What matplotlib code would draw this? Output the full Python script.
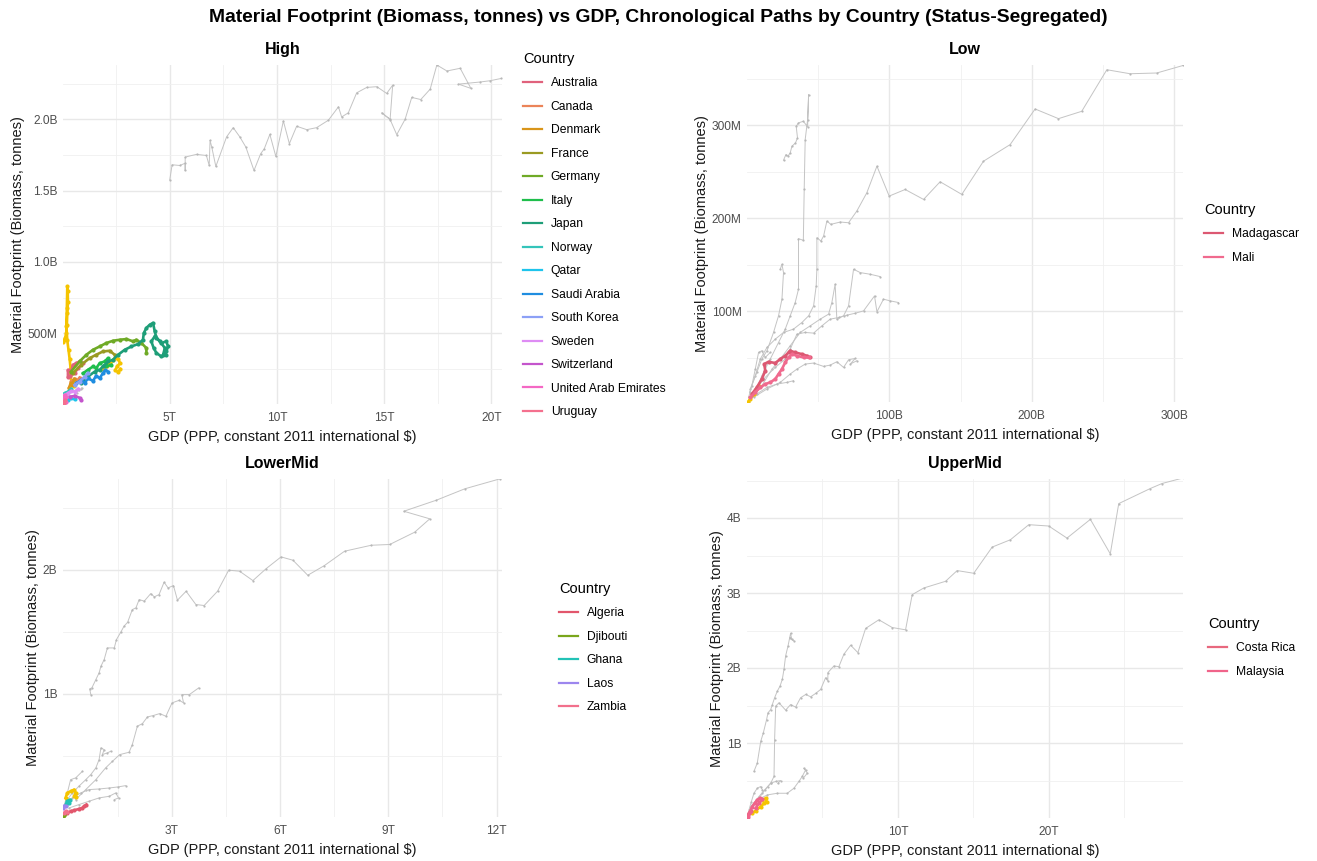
import matplotlib
matplotlib.use("Agg")
import matplotlib.pyplot as plt
from matplotlib.lines import Line2D
import numpy as np

plt.rcParams['font.family'] = ['Liberation Sans', 'DejaVu Sans']

T, B, M = 1e12, 1e9, 1e6
W, H = 1317, 861

# ======================= DATA =======================
# ---------- High (GDP in T, MF in B) ----------
high_gray1_gdp = [5.00, 5.11, 5.47, 5.72, 5.72, 5.72, 6.25, 6.71, 6.84, 6.88, 6.96, 7.15, 7.65, 7.96, 8.27, 8.55,
                  8.93, 9.24, 9.41, 9.67, 9.95, 10.30, 10.58, 10.92, 11.39, 11.85, 12.40, 12.87, 13.02, 13.33,
                  13.72, 14.19, 14.66, 15.12, 15.40, 15.28, 14.89, 15.28, 15.59, 15.98, 16.29, 16.71, 17.15,
                  17.46, 17.93, 18.55, 19.05, 18.47, 19.49, 19.95, 20.47]
high_gray1_mf = [1.575, 1.681, 1.676, 1.692, 1.641, 1.735, 1.754, 1.746, 1.676, 1.852, 1.805, 1.669, 1.876, 1.941,
                 1.876, 1.805, 1.641, 1.758, 1.793, 1.894, 1.739, 1.988, 1.829, 1.951, 1.927, 1.941, 1.993, 2.087,
                 2.016, 2.045, 2.185, 2.223, 2.228, 2.181, 2.239, 2.000, 2.045, 1.998, 1.892, 2.000, 2.153, 2.138,
                 2.211, 2.380, 2.338, 2.357, 2.216, 2.246, 2.261, 2.270, 2.286]
high_gray2_gdp = [0.55, 0.65, 0.75, 0.85, 0.90]
high_gray2_mf = [0.07, 0.085, 0.10, 0.11, 0.12]
high_yellow1_gdp = [0.02, 0.08, 0.12, 0.17, 0.20, 0.22, 0.25, 0.24, 0.22, 0.20, 0.18, 0.22, 0.28, 0.33, 0.37, 0.35, 0.42, 0.52]
high_yellow1_mf = [0.44, 0.45, 0.47, 0.50, 0.56, 0.64, 0.72, 0.80, 0.83, 0.68, 0.55, 0.45, 0.38, 0.32, 0.26, 0.20, 0.16, 0.13]
high_yellow2_gdp = [1.90, 2.05, 2.20, 2.35, 2.45, 2.60, 2.68, 2.55, 2.45, 2.60, 2.70]
high_yellow2_mf = [0.25, 0.27, 0.29, 0.31, 0.33, 0.32, 0.29, 0.27, 0.24, 0.23, 0.25]

high_japan_gdp = [0.87, 1.18, 1.50, 1.73, 1.88, 2.12, 2.35, 2.59, 2.90, 3.21, 3.52, 3.75, 3.79, 3.91, 4.07, 4.22,
                  4.30, 4.38, 4.61, 4.84, 4.92, 4.84, 4.69, 4.77, 4.53, 4.30, 4.14, 4.25, 4.38, 4.61, 4.84]
high_japan_mf = [0.150, 0.197, 0.232, 0.244, 0.268, 0.303, 0.315, 0.350, 0.385, 0.408, 0.425, 0.455, 0.502, 0.538,
                 0.561, 0.573, 0.514, 0.467, 0.432, 0.444, 0.408, 0.373, 0.350, 0.397, 0.448, 0.479, 0.444, 0.397,
                 0.362, 0.338, 0.350]
high_germany_gdp = [0.40, 0.79, 1.11, 1.42, 1.73, 2.04, 2.35, 2.66, 2.98, 3.29, 3.44, 3.68, 3.91, 3.91]
high_germany_mf = [0.232, 0.303, 0.350, 0.385, 0.408, 0.432, 0.448, 0.455, 0.460, 0.444, 0.455, 0.432, 0.397, 0.362]
high_france_gdp = [0.48, 0.87, 1.26, 1.57, 1.88, 2.20, 2.43]
high_france_mf = [0.220, 0.280, 0.326, 0.350, 0.373, 0.378, 0.350]
high_italy_gdp = [0.95, 1.18, 1.42, 1.57, 1.73, 1.96, 2.12, 2.04, 2.27]
high_italy_mf = [0.220, 0.244, 0.268, 0.256, 0.291, 0.303, 0.326, 0.268, 0.279]
high_australia_gdp = [0.25, 0.25, 0.40, 0.48, 0.64, 0.79, 0.95, 0.72, 0.56, 0.36]
high_australia_mf = [0.197, 0.244, 0.232, 0.279, 0.291, 0.303, 0.291, 0.256, 0.221, 0.204]
high_canada_gdp = [0.40, 0.56, 0.67, 0.79]
high_canada_mf = [0.162, 0.181, 0.167, 0.190]
high_denmark_gdp = [0.30, 0.38, 0.46, 0.55]
high_denmark_mf = [0.120, 0.150, 0.140, 0.180]
high_saudi_gdp = [0.64, 0.87, 1.03, 1.18, 1.42, 1.57, 1.73, 1.88, 2.00, 2.12]
high_saudi_mf = [0.150, 0.174, 0.150, 0.185, 0.167, 0.204, 0.185, 0.221, 0.244, 0.232]
high_korea_gdp = [0.56, 0.79, 1.03, 1.18]
high_korea_mf = [0.139, 0.162, 0.197, 0.221]
high_qatar_gdp = [0.09, 0.25, 0.40, 0.56]
high_qatar_mf = [0.021, 0.033, 0.045, 0.038]
high_norway_gdp = [0.09, 0.25, 0.40]
high_norway_mf = [0.080, 0.092, 0.110]
high_sweden_gdp = [0.09, 0.25, 0.40, 0.56, 0.72]
high_sweden_mf = [0.068, 0.080, 0.096, 0.092, 0.110]
high_swiss_gdp = [0.33, 0.56, 0.79, 0.87]
high_swiss_mf = [0.056, 0.061, 0.049, 0.033]
high_uae_gdp = [0.02, 0.09, 0.17, 0.14]
high_uae_mf = [0.045, 0.068, 0.056, 0.021]
high_uruguay_gdp = [0.02, 0.06, 0.12]
high_uruguay_mf = [0.020, 0.010, 0.030]

high_countries = ["Australia", "Canada", "Denmark", "France", "Germany", "Italy", "Japan", "Norway", "Qatar",
                  "Saudi Arabia", "South Korea", "Sweden", "Switzerland", "United Arab Emirates", "Uruguay"]

# ---------- Low (GDP in B, MF in M) ----------
low_gray_a_gdp = [2.1, 6.1, 9.6, 14.3, 20.1, 25.9, 32.9, 38.8, 43.5, 47.0, 48.8, 49.3, 49.3, 52.1, 54.0, 56.3, 59.1,
                  65.7, 71.5, 77.3, 84.3, 91.4, 100.0, 111.2, 124.1, 135.7, 150.9, 166.1, 184.8, 202.3, 218.7,
                  235.0, 252.6, 268.9, 287.6, 306.3]
low_gray_a_mf = [12.9, 30.8, 48.7, 61.2, 70.1, 77.3, 80.9, 88.0, 95.2, 105.9, 127.4, 145.3, 179.2, 175.7, 181.0,
                 197.1, 193.6, 196.1, 195.3, 207.9, 227.5, 256.2, 224.0, 231.1, 220.4, 239.4, 225.8, 261.5, 279.4,
                 317.7, 307.3, 315.2, 359.9, 355.6, 356.4, 364.6]
low_gray_b_gdp = [6.1, 10.7, 16.6, 22.4, 27.1, 30.6, 34.1, 36.4, 36.4, 39.8, 40.4, 41.1, 42.8, 43.5, 42.8, 39.8,
                  36.4, 34.8, 35.7, 34.3, 31.8, 30.6, 29.0, 27.6, 25.9]
low_gray_b_mf = [12.9, 30.8, 48.7, 66.5, 80.9, 95.2, 109.5, 123.8, 178.2, 176.4, 231.1, 284.8, 306.3, 333.1, 298.4,
                 304.5, 302.7, 299.1, 286.6, 281.2, 277.6, 270.5, 266.9, 268.7, 262.6]
low_gray_c_gdp = [10.7, 17.8, 23.6, 30.6, 37.6, 44.6, 51.6, 57.5, 59.8, 62.1, 63.3, 68.0, 71.5, 75.0, 79.7, 86.7, 93.7]
low_gray_c_mf = [20.0, 37.9, 48.7, 63.0, 77.3, 84.4, 91.6, 97.0, 109.5, 129.2, 91.6, 95.2, 105.9, 145.3, 141.7, 139.9, 137.4]
low_gray_d_gdp = [3.7, 11.9, 20.1, 27.1, 30.6, 35.3, 41.1, 47.0, 52.8, 58.6, 64.5, 70.3, 76.2, 82.0, 89.7, 91.4,
                  96.0, 100.7, 106.5]
low_gray_d_mf = [9.3, 27.2, 39.7, 48.7, 59.4, 75.5, 77.3, 76.6, 84.4, 91.6, 93.4, 95.9, 98.0, 100.5, 116.6, 99.5,
                 113.1, 111.3, 109.5]
low_gray_e_gdp = [4.9, 14.3, 23.6, 30.6, 35.3, 41.1, 47.0, 54.0, 58.6, 63.3, 68.0, 71.5, 76.2, 72.7, 77.3]
low_gray_e_mf = [7.5, 16.5, 23.6, 32.6, 37.9, 43.3, 44.4, 40.8, 42.2, 45.8, 39.7, 47.9, 49.4, 43.3, 46.9]
low_gray_f_gdp = [1.4, 7.2, 14.3, 21.3, 28.3, 32.9]
low_gray_f_mf = [3.9, 11.1, 18.2, 21.8, 23.6, 25.4]
low_gray_g_gdp = [2.6, 7.2, 10.7, 14.3, 18.9, 22.4, 24.8, 25.9, 24.8, 23.6]
low_gray_g_mf = [16.5, 34.3, 48.7, 57.6, 77.3, 95.2, 113.1, 141.7, 150.6, 145.3]
low_gray_h_gdp = [1.4, 3.7, 6.1, 8.4, 10.7, 13.1, 16.6]
low_gray_h_mf = [7.5, 20.0, 37.9, 55.8, 57.6, 50.4, 55.8]
low_yellow_gdp = [0.7, 2.6, 4.9, 6.8, 8.4]
low_yellow_mf = [2.1, 5.7, 11.1, 16.5, 20.0]
low_madagascar_gdp = [3.7, 7.2, 10.7, 13.1, 12.4, 15.4, 20.1, 23.6, 27.1, 29.4, 30.6, 34.1, 38.8, 42.3, 44.2]
low_madagascar_mf = [11.1, 18.2, 27.2, 36.1, 43.3, 45.8, 44.4, 48.7, 52.2, 55.8, 57.6, 55.8, 54.0, 52.2, 50.4]
low_mali_gdp = [2.6, 6.1, 9.6, 13.1, 16.6, 20.1, 22.4, 24.8, 27.1, 29.4, 31.8, 35.3, 40.0, 43.5]
low_mali_mf = [7.5, 12.9, 18.2, 21.8, 23.6, 27.2, 32.6, 37.9, 45.1, 50.4, 54.0, 52.2, 50.4, 50.4]

low_countries = ["Madagascar", "Mali"]

# ---------- LowerMid (GDP in T, MF in B) ----------
lm_gray1_gdp = [0.76, 0.73, 0.79, 0.90, 0.99, 1.04, 1.13, 1.22, 1.41, 1.47, 1.59, 1.68, 1.78, 1.91, 2.01, 2.10, 2.24,
                2.42, 2.52, 2.65, 2.79, 2.90, 3.05, 3.16, 3.40, 3.67, 3.90, 4.27, 4.58, 4.88, 5.25, 5.62, 6.03, 6.36,
                6.77, 7.23, 7.79, 8.53, 9.04, 9.73, 10.15, 9.43, 10.33, 11.12, 12.09]
lm_gray1_mf = [0.992, 1.038, 1.046, 1.113, 1.167, 1.220, 1.274, 1.368, 1.368, 1.435, 1.495, 1.543, 1.575, 1.677, 1.691,
               1.758, 1.745, 1.806, 1.780, 1.798, 1.898, 1.852, 1.871, 1.753, 1.825, 1.718, 1.710, 1.825, 1.995, 1.987,
               1.911, 2.008, 2.102, 2.075, 1.954, 2.032, 2.148, 2.196, 2.202, 2.301, 2.409, 2.470, 2.559, 2.651, 2.731]
lm_gray2_gdp = [0.34, 0.62, 0.90, 1.17, 1.36, 1.56, 1.82, 1.91, 2.05, 2.19, 2.33, 2.49, 2.67, 2.84, 3.01, 3.21, 3.33,
                3.28, 3.49, 3.75]
lm_gray2_mf = [0.145, 0.226, 0.306, 0.401, 0.454, 0.508, 0.527, 0.589, 0.737, 0.758, 0.812, 0.823, 0.839, 0.817, 0.925,
               0.946, 0.925, 0.992, 0.992, 1.046]
lm_gray3_gdp = [0.11, 0.25, 0.43, 0.62, 0.76, 0.90, 0.99, 1.04, 1.13, 1.08, 1.22, 1.31]
lm_gray3_mf = [0.145, 0.199, 0.253, 0.306, 0.347, 0.401, 0.468, 0.562, 0.548, 0.508, 0.522, 0.535]
lm_gray4_gdp = [0.06, 0.25, 0.48, 0.71, 0.99, 1.27, 1.50, 1.73]
lm_gray4_mf = [0.118, 0.159, 0.199, 0.226, 0.231, 0.239, 0.247, 0.258]
lm_gray5_gdp = [0.16, 0.43, 0.71, 0.99, 1.27, 1.45, 1.53, 1.41]
lm_gray5_mf = [0.078, 0.105, 0.132, 0.159, 0.172, 0.199, 0.159, 0.145]
lm_gray6_gdp = [0.02, 0.11, 0.20, 0.34, 0.53]
lm_gray6_mf = [0.091, 0.199, 0.306, 0.320, 0.374]
lm_yellow_gdp = [0.06, 0.11, 0.20, 0.30, 0.34, 0.30, 0.36]
lm_yellow_mf = [0.159, 0.199, 0.212, 0.226, 0.199, 0.172, 0.167]
lm_algeria_gdp = [0.00, 0.11, 0.20, 0.30, 0.43, 0.53, 0.57, 0.64]
lm_algeria_mf = [0.011, 0.038, 0.051, 0.059, 0.070, 0.078, 0.091, 0.105]
lm_djibouti_gdp = [0.002, 0.005, 0.008]
lm_djibouti_mf = [0.015, 0.020, 0.024]
lm_ghana_gdp = [0.06, 0.11, 0.18, 0.16]
lm_ghana_mf = [0.105, 0.132, 0.145, 0.118]
lm_laos_gdp = [0.00, 0.03, 0.06]
lm_laos_mf = [0.078, 0.097, 0.091]
lm_zambia_gdp = [0.02, 0.06, 0.09]
lm_zambia_mf = [0.038, 0.051, 0.045]

lm_countries = ["Algeria", "Djibouti", "Ghana", "Laos", "Zambia"]

# ---------- UpperMid (GDP in T, MF in B) ----------
um_gray1_gdp = [0.13, 0.57, 1.02, 1.39, 1.57, 1.79, 1.83, 1.90, 2.12, 2.56, 2.89, 3.22, 3.55, 3.89, 4.22, 4.55, 4.88,
                5.21, 5.36, 5.36, 5.76, 6.09, 6.42, 6.87, 7.35, 7.86, 8.74, 9.62, 10.51, 10.95, 11.72, 13.16, 13.93,
                15.03, 16.25, 17.46, 18.68, 20.00, 21.21, 22.76, 24.08, 24.64, 26.73, 27.51, 28.94]
um_gray1_mf = [0.085, 0.196, 0.330, 0.420, 0.464, 0.554, 1.045, 1.491, 1.536, 1.438, 1.513, 1.478, 1.603, 1.647, 1.616,
               1.661, 1.714, 1.871, 1.826, 1.938, 2.027, 2.018, 2.183, 2.304, 2.205, 2.527, 2.643, 2.540, 2.509, 2.978,
               3.067, 3.156, 3.299, 3.263, 3.612, 3.710, 3.911, 3.893, 3.732, 3.982, 3.522, 4.192, 4.393, 4.460, 4.536]
um_gray2_gdp = [0.46, 0.68, 0.91, 1.08, 1.30, 1.39, 1.57, 1.68, 1.83, 2.01, 2.19, 2.34, 2.45, 2.56, 2.72, 2.89, 2.96,
                3.11, 2.85]
um_gray2_mf = [0.621, 0.732, 1.022, 1.134, 1.313, 1.402, 1.446, 1.513, 1.603, 1.692, 1.759, 1.848, 1.982, 2.161, 2.295,
               2.464, 2.384, 2.362, 2.406]
um_gray3_gdp = [0.24, 0.68, 1.35, 2.01, 2.67, 3.11, 3.44, 3.66, 3.89, 3.77, 4.00, 3.73]
um_gray3_mf = [0.152, 0.241, 0.308, 0.330, 0.330, 0.397, 0.487, 0.554, 0.643, 0.665, 0.598, 0.531]
um_gray4_gdp = [0.35, 0.79, 1.17, 1.57, 1.90, 2.23, 2.05]
um_gray4_mf = [0.174, 0.286, 0.375, 0.464, 0.487, 0.500, 0.464]
um_gray5_gdp = [0.13, 0.29, 0.46, 0.68, 0.91, 1.02]
um_gray5_mf = [0.107, 0.219, 0.330, 0.397, 0.420, 0.375]
um_yellow_gdp = [0.35, 0.57, 0.91, 1.13, 1.30, 1.24, 1.02]
um_yellow_mf = [0.063, 0.098, 0.152, 0.196, 0.219, 0.263, 0.241]
um_costarica_gdp = [0.02, 0.08, 0.15, 0.24]
um_costarica_mf = [0.020, 0.045, 0.070, 0.100]
um_malaysia_gdp = [0.07, 0.20, 0.35, 0.51, 0.68, 0.86, 1.02, 0.79, 0.57]
um_malaysia_mf = [0.018, 0.085, 0.152, 0.196, 0.241, 0.263, 0.250, 0.196, 0.129]

um_countries = ["Costa Rica", "Malaysia"]

# ---------- Axis ticks ----------
high_xticks = [5, 10, 15, 20]
high_xlabels = ["5T", "10T", "15T", "20T"]
high_yticks = [0.5, 1.0, 1.5, 2.0]
high_ylabels = ["500M", "1.0B", "1.5B", "2.0B"]
low_xticks = [100, 200, 300]
low_xlabels = ["100B", "200B", "300B"]
low_yticks = [100, 200, 300]
low_ylabels = ["100M", "200M", "300M"]
lm_xticks = [3, 6, 9, 12]
lm_xlabels = ["3T", "6T", "9T", "12T"]
lm_yticks = [1, 2]
lm_ylabels = ["1B", "2B"]
um_xticks = [10, 20]
um_xlabels = ["10T", "20T"]
um_yticks = [1, 2, 3, 4]
um_ylabels = ["1B", "2B", "3B", "4B"]

# ======================= STYLE =======================
GRAY = "#C4C4C4"
YELLOW = "#F5C400"
high_colors = ["#E0627C", "#EB8459", "#D9951A", "#9A9A22", "#6FAA26", "#1FBE4C", "#1E9E78", "#34C4BA",
               "#1EC4EC", "#1F8DE0", "#8CA0F6", "#DE8CF4", "#C455CC", "#F468C4", "#F4708E"]
low_colors = ["#DC5872", "#F06A8E"]
lm_colors = ["#E2566C", "#7AA61C", "#22C2B6", "#9C86EE", "#F2708C"]
um_colors = ["#E8687E", "#F0648A"]

fig = plt.figure(figsize=(W / 100, H / 100), dpi=100)
fig.patch.set_facecolor("white")


def make_axes(l, r, t, b):
    return fig.add_axes([l / W, 1 - b / H, (r - l) / W, (b - t) / H])


def style(ax, title, xt, xl, yt, yl, xminor, yminor, xlim, ylim, xs, ys):
    ax.set_xlim(xlim[0] * xs, xlim[1] * xs)
    ax.set_ylim(ylim[0] * ys, ylim[1] * ys)
    ax.set_xticks([v * xs for v in xt])
    ax.set_xticklabels(xl)
    ax.set_yticks([v * ys for v in yt])
    ax.set_yticklabels(yl)
    ax.set_xticks([v * xs for v in xminor], minor=True)
    ax.set_yticks([v * ys for v in yminor], minor=True)
    ax.grid(True, which="major", color="#E8E8E8", lw=1.0)
    ax.grid(True, which="minor", color="#F0F0F0", lw=0.6)
    ax.set_axisbelow(True)
    for s in ax.spines.values():
        s.set_visible(False)
    ax.tick_params(which="both", length=0)
    ax.tick_params(axis="x", labelsize=8.6, labelcolor="#4D4D4D", pad=6)
    ax.tick_params(axis="y", labelsize=8.6, labelcolor="#4D4D4D", pad=4)
    ax.set_title(title, fontsize=11.5, fontweight="bold", pad=8)
    ax.set_xlabel("GDP (PPP, constant 2011 international $)", fontsize=10.5, color="#1A1A1A", labelpad=4)
    ax.set_ylabel("Material Footprint (Biomass, tonnes)", fontsize=10.5, color="#1A1A1A", labelpad=2)


def path(ax, x, y, xs, ys, color, gray=False):
    xa = np.asarray(x, dtype=float) * xs
    ya = np.asarray(y, dtype=float) * ys
    if gray:
        ax.plot(xa, ya, color=GRAY, lw=0.7, marker="o", ms=1.6, mec="none", mfc="#B8B8B8", zorder=2)
    else:
        ax.plot(xa, ya, color=color, lw=1.9, marker="o", ms=3.0, mec="none", zorder=3)


def legend(names, colors, x_px, y_px):
    handles = [Line2D([], [], color=c, lw=1.6) for c in colors]
    fig.legend(handles, names, title="Country", loc="upper left",
               bbox_to_anchor=(x_px / W, 1 - y_px / H), frameon=False, fontsize=8.7,
               title_fontsize=10.5, handlelength=1.6, handletextpad=0.7, labelspacing=0.95,
               borderpad=0, borderaxespad=0, alignment="left")


# ---------- High ----------
ax = make_axes(63, 502, 65, 404)
for gx, gy in [(high_gray1_gdp, high_gray1_mf), (high_gray2_gdp, high_gray2_mf)]:
    path(ax, gx, gy, T, B, None, gray=True)
for gx, gy in [(high_yellow1_gdp, high_yellow1_mf), (high_yellow2_gdp, high_yellow2_mf)]:
    path(ax, gx, gy, T, B, YELLOW)
high_series = [(high_australia_gdp, high_australia_mf), (high_canada_gdp, high_canada_mf),
               (high_denmark_gdp, high_denmark_mf), (high_france_gdp, high_france_mf),
               (high_germany_gdp, high_germany_mf), (high_italy_gdp, high_italy_mf),
               (high_japan_gdp, high_japan_mf), (high_norway_gdp, high_norway_mf),
               (high_qatar_gdp, high_qatar_mf), (high_saudi_gdp, high_saudi_mf),
               (high_korea_gdp, high_korea_mf), (high_sweden_gdp, high_sweden_mf),
               (high_swiss_gdp, high_swiss_mf), (high_uae_gdp, high_uae_mf),
               (high_uruguay_gdp, high_uruguay_mf)]
for (gx, gy), c in zip(high_series, high_colors):
    path(ax, gx, gy, T, B, c)
style(ax, "High", high_xticks, high_xlabels, high_yticks, high_ylabels,
      [2.5, 7.5, 12.5, 17.5], [0.25, 0.75, 1.25, 1.75, 2.25], (0.02, 20.5), (0.005, 2.38), T, B)
legend(high_countries, high_colors, 523, 52)

# ---------- Low ----------
ax = make_axes(747, 1183, 65, 402)
for gx, gy in [(low_gray_a_gdp, low_gray_a_mf), (low_gray_b_gdp, low_gray_b_mf), (low_gray_c_gdp, low_gray_c_mf),
               (low_gray_d_gdp, low_gray_d_mf), (low_gray_e_gdp, low_gray_e_mf), (low_gray_f_gdp, low_gray_f_mf),
               (low_gray_g_gdp, low_gray_g_mf), (low_gray_h_gdp, low_gray_h_mf)]:
    path(ax, gx, gy, B, M, None, gray=True)
path(ax, low_yellow_gdp, low_yellow_mf, B, M, YELLOW)
for (gx, gy), c in zip([(low_madagascar_gdp, low_madagascar_mf), (low_mali_gdp, low_mali_mf)], low_colors):
    path(ax, gx, gy, B, M, c)
style(ax, "Low", low_xticks, low_xlabels, low_yticks, low_ylabels,
      [50, 150, 250], [50, 150, 250, 350], (0.3, 306), (2.5, 365), B, M)
legend(low_countries, low_colors, 1204, 203)

# ---------- LowerMid ----------
ax = make_axes(63, 502, 479, 817)
for gx, gy in [(lm_gray1_gdp, lm_gray1_mf), (lm_gray2_gdp, lm_gray2_mf), (lm_gray3_gdp, lm_gray3_mf),
               (lm_gray4_gdp, lm_gray4_mf), (lm_gray5_gdp, lm_gray5_mf), (lm_gray6_gdp, lm_gray6_mf)]:
    path(ax, gx, gy, T, B, None, gray=True)
path(ax, lm_yellow_gdp, lm_yellow_mf, T, B, YELLOW)
for (gx, gy), c in zip([(lm_algeria_gdp, lm_algeria_mf), (lm_djibouti_gdp, lm_djibouti_mf),
                        (lm_ghana_gdp, lm_ghana_mf), (lm_laos_gdp, lm_laos_mf),
                        (lm_zambia_gdp, lm_zambia_mf)], lm_colors):
    path(ax, gx, gy, T, B, c)
style(ax, "LowerMid", lm_xticks, lm_xlabels, lm_yticks, lm_ylabels,
      [1.5, 4.5, 7.5, 10.5], [0.5, 1.5, 2.5], (-0.01, 12.15), (0.005, 2.73), T, B)
legend(lm_countries, lm_colors, 559, 582)

# ---------- UpperMid ----------
ax = make_axes(747, 1183, 479, 818)
for gx, gy in [(um_gray1_gdp, um_gray1_mf), (um_gray2_gdp, um_gray2_mf), (um_gray3_gdp, um_gray3_mf),
               (um_gray4_gdp, um_gray4_mf), (um_gray5_gdp, um_gray5_mf)]:
    path(ax, gx, gy, T, B, None, gray=True)
path(ax, um_yellow_gdp, um_yellow_mf, T, B, YELLOW)
for (gx, gy), c in zip([(um_costarica_gdp, um_costarica_mf), (um_malaysia_gdp, um_malaysia_mf)], um_colors):
    path(ax, gx, gy, T, B, c)
style(ax, "UpperMid", um_xticks, um_xlabels, um_yticks, um_ylabels,
      [5, 15, 25], [0.5, 1.5, 2.5, 3.5, 4.5], (0.0, 28.9), (0.0, 4.52), T, B)
legend(um_countries, um_colors, 1208, 617)

fig.suptitle("Material Footprint (Biomass, tonnes) vs GDP, Chronological Paths by Country (Status-Segregated)",
             fontsize=13.9, fontweight="bold", y=1 - 18 / H, va="center")

fig.savefig("out.png", dpi=100, facecolor="white")
